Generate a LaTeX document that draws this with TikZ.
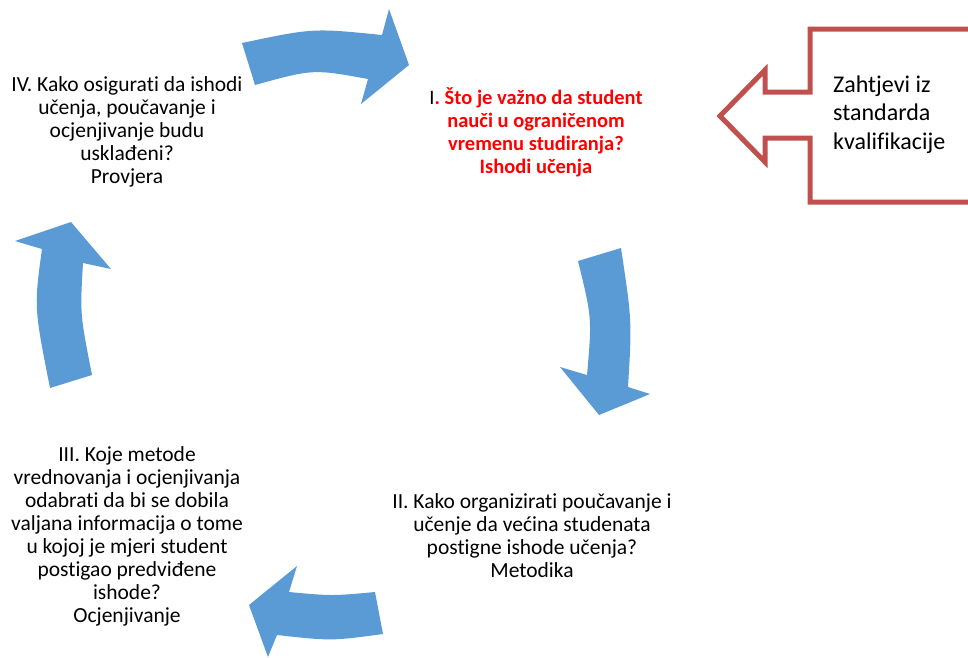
\documentclass[tikz,border=0pt]{standalone}
\usepackage{fontspec}
\setmainfont{Carlito}[Ligatures=NoCommon]
\definecolor{arrowblue}{HTML}{5B9BD5}
\definecolor{boxred}{HTML}{C0504D}
\definecolor{txtred}{HTML}{FF0000}
\tikzset{
  cyclearrow/.style={fill=arrowblue, draw=none},
  steptext/.style={align=center, font=\fontsize{21.5}{23}\selectfont, inner sep=0pt},
  reqtext/.style={align=left, anchor=west, font=\fontsize{24}{28.5}\selectfont, inner sep=0pt},
  reqarrow/.style={draw=boxred, line width=5pt, miter limit=20}
}
\begin{document}
\begin{tikzpicture}[x=1pt,y=-1pt]
\useasboundingbox (0,0) rectangle (968,657);
\clip (0,0) rectangle (968,657);
% blue cycle arrows
\fill[cyclearrow] (242,43) .. controls (313,28) .. (382,35) -- (389,9) -- (409,65) -- (361,104) -- (368,79) .. controls (313,69) .. (255,85) -- cycle;
\fill[cyclearrow] (578,261) -- (621,248) .. controls (632,321) .. (628,387) -- (650,394) -- (599,415) -- (560,367) -- (587,375) .. controls (592,318) .. (578,261) -- cycle;
\fill[cyclearrow] (375,592) .. controls (332,596) .. (289,592) -- (297,566) -- (249,605) -- (268,657) -- (277,635) .. controls (331,641) .. (383,634) -- cycle;
\fill[cyclearrow] (50,388) .. controls (34,307) .. (42,249) -- (15,241) -- (71,222) -- (111,269) -- (83,263) .. controls (80,314) .. (92,375) -- cycle;
% requirement arrow
\draw[reqarrow] (985,29) -- (810,29) -- (810,92) -- (765,92) -- (765,70) -- (720,116) -- (765,162) -- (765,138) -- (810,138) -- (810,202) -- (985,202);
% texts
\node[steptext] (s4) at (127,132) {IV. Kako osigurati da ishodi\\učenja, poučavanje i\\ocjenjivanje budu\\usklađeni?\\Provjera};
\node[steptext, font=\fontsize{20.5}{23}\selectfont\bfseries, text=txtred] (s1) at (536,132.5) {\textcolor{black}{\mdseries I}. Što je važno da student\\nauči u ograničenom\\vremenu studiranja?\\Ishodi učenja};
\node[steptext] (s2) at (532,535.5) {II. Kako organizirati poučavanje i\\učenje da većina studenata\\postigne ishode učenja?\\Metodika};
\node[steptext] (s3) at (127,536.5) {III. Koje metode\\vrednovanja i ocjenjivanja\\odabrati da bi se dobila\\valjana informacija o tome\\u kojoj je mjeri student\\postigao predviđene\\ishode?\\Ocjenjivanje};
\node[reqtext] (req) at (833,114.5) {Zahtjevi iz\\standarda\\kvalifikacije};
\end{tikzpicture}
\end{document}
